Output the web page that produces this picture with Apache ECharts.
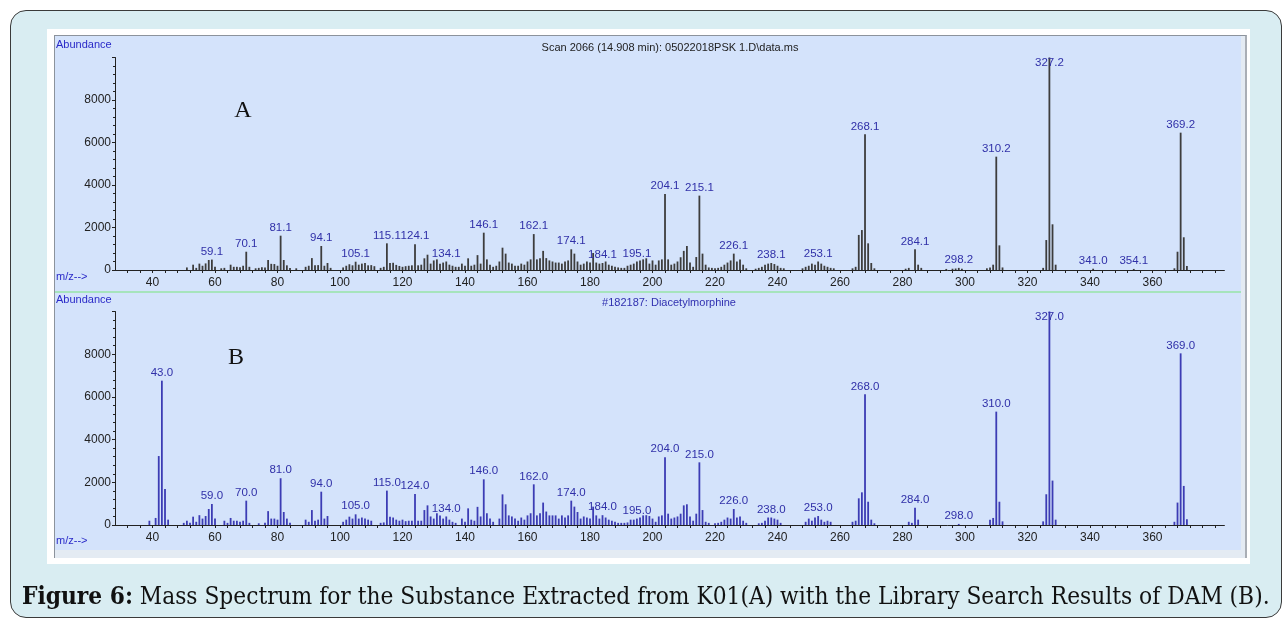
<html>
<head>
<meta charset="UTF-8">
<script src="https://cdn.jsdelivr.net/npm/echarts@6/dist/echarts.min.js"></script>
<style>
    body { margin: 0; background: #ffffff; }
    .outer {
        position: absolute; left: 10px; top: 10px; width: 1270px; height: 606px;
        border: 1.5px solid #3a3a3a; border-radius: 16px; background: #d9edf2;
    }
    .frame { position: absolute; left: 47px; top: 29px; width: 1203px; height: 535px; background: #ffffff; }
    .panel {
        position: absolute; left: 54px; top: 35px; width: 1190px; height: 522px;
        border-left: 1px solid #8c939c; border-top: 1px solid #8c939c; border-right: 2px solid #a9aeb5;
        background: #e4ebf3;
    }
    .plot { position: absolute; left: 55px; top: 36px; width: 1186px; height: 514px; background: #d4e3fb; }
    .sep { position: absolute; left: 55px; top: 291px; width: 1186px; height: 2px; background: #a6e4bc; }
    #chart { position: absolute; left: 0; top: 0; width: 1286px; height: 622px; }
    .caption {
        position: absolute; left: 22px; top: 583px; white-space: nowrap;
        font-family: "DejaVu Serif", serif; font-stretch: condensed; font-size: 22px; line-height: 26px; color: #111;
    }
</style>
</head>
<body>
<div class="outer"></div>
<div class="frame"></div>
<div class="panel"></div>
<div class="plot"></div>
<div class="sep"></div>
<div id="chart"></div>
<div class="caption" id="caption"><b>Figure 6:</b> Mass Spectrum for the Substance Extracted from K01(A) with the Library Search Results of DAM (B).</div>
<script>
    // [m/z, abundance] (A) and the library hit (B)
    const peaksA = [[51,120],[53,250],[54,100],[55,300],[56,200],[57,310],[58,470],[59,490],[60,150],[62,80],[63,100],[65,250],[66,150],[67,150],[68,130],[69,200],[70,860],[71,150],[73,80],[74,100],[75,130],[76,120],[77,470],[78,290],[79,280],[80,200],[81,1615],[82,470],[83,220],[84,100],[86,80],[89,150],[90,200],[91,560],[92,220],[93,230],[94,1130],[95,200],[96,330],[97,100],[101,120],[102,200],[103,270],[104,220],[105,390],[106,250],[107,300],[108,330],[109,220],[110,230],[111,180],[113,100],[114,150],[115,1255],[116,330],[117,340],[118,240],[119,190],[120,150],[121,180],[122,200],[123,220],[124,1210],[125,220],[126,250],[127,550],[128,720],[129,300],[130,450],[131,500],[132,300],[133,350],[134,400],[135,250],[136,200],[137,150],[138,150],[139,300],[140,200],[141,550],[142,200],[143,250],[144,700],[145,300],[146,1756],[147,500],[148,250],[149,150],[150,200],[151,400],[152,1050],[153,770],[154,350],[155,300],[156,200],[157,200],[158,300],[159,250],[160,400],[161,500],[162,1690],[163,500],[164,550],[165,900],[166,560],[167,450],[168,400],[169,350],[170,350],[171,300],[172,400],[173,450],[174,975],[175,770],[176,400],[177,250],[178,300],[179,400],[180,350],[181,800],[182,350],[183,300],[184,330],[185,400],[186,250],[187,200],[188,150],[189,120],[190,100],[191,100],[192,200],[193,250],[194,300],[195,400],[196,450],[197,500],[198,550],[199,300],[200,450],[201,250],[202,450],[203,500],[204,3577],[205,500],[206,250],[207,300],[208,400],[209,600],[210,900],[211,1130],[212,350],[213,150],[214,610],[215,3500],[216,770],[217,250],[218,120],[219,100],[220,80],[221,100],[222,150],[223,250],[224,350],[225,450],[226,770],[227,400],[228,500],[229,250],[230,80],[233,60],[234,100],[235,150],[236,250],[237,300],[238,330],[239,280],[240,200],[241,100],[242,80],[248,80],[249,150],[250,200],[251,300],[252,250],[253,400],[254,300],[255,200],[256,150],[257,100],[258,80],[264,80],[265,150],[266,1650],[267,1880],[268,6384],[269,1255],[270,330],[271,80],[281,60],[282,100],[284,972],[285,250],[286,100],[294,50],[296,60],[297,70],[298,100],[299,60],[307,80],[308,120],[309,250],[310,5333],[311,1160],[312,120],[325,100],[326,1410],[327,10000],[328,2150],[329,250],[341,60],[354,50],[367,80],[368,860],[369,6463],[370,1540],[371,190]];
    const peaksB = [[39,200],[41,330],[42,3230],[43,6760],[44,1686],[45,250],[50,100],[51,200],[52,100],[53,390],[54,150],[55,460],[56,300],[57,420],[58,750],[59,985],[60,300],[63,200],[64,100],[65,330],[66,200],[67,200],[68,150],[69,200],[70,1140],[71,100],[74,80],[76,100],[77,650],[78,300],[79,300],[80,250],[81,2190],[82,610],[83,300],[84,100],[89,250],[90,150],[91,700],[92,200],[93,250],[94,1560],[95,300],[96,420],[101,150],[102,250],[103,390],[104,300],[105,500],[106,300],[107,350],[108,300],[109,250],[110,200],[113,100],[114,120],[115,1610],[116,390],[117,350],[118,250],[119,200],[120,250],[121,180],[122,200],[123,200],[124,1450],[125,200],[126,200],[127,700],[128,920],[129,400],[130,300],[131,550],[132,450],[133,300],[134,400],[135,250],[136,150],[137,100],[139,300],[140,150],[141,780],[142,250],[143,200],[144,850],[145,400],[146,2140],[147,550],[148,300],[149,150],[151,300],[152,1435],[153,970],[154,450],[155,400],[156,300],[157,200],[158,350],[159,250],[160,450],[161,550],[162,1905],[163,450],[164,550],[165,1050],[166,630],[167,450],[168,450],[169,450],[170,300],[171,450],[172,350],[173,450],[174,1140],[175,860],[176,610],[177,300],[178,400],[179,350],[180,300],[181,860],[182,450],[183,300],[184,460],[185,350],[186,250],[187,200],[188,150],[189,100],[190,100],[191,100],[192,120],[193,250],[194,250],[195,300],[196,350],[197,450],[198,460],[199,420],[200,300],[201,150],[202,400],[203,450],[204,3170],[205,530],[206,300],[207,350],[208,400],[209,530],[210,920],[211,970],[212,400],[213,200],[214,530],[215,2935],[216,700],[217,150],[218,100],[220,80],[221,100],[222,150],[223,250],[224,350],[225,300],[226,750],[227,350],[228,400],[229,200],[230,100],[234,80],[235,100],[236,200],[237,350],[238,350],[239,300],[240,250],[241,100],[249,150],[250,300],[251,200],[252,350],[253,420],[254,250],[255,150],[256,200],[257,150],[264,150],[265,200],[266,1250],[267,1530],[268,6120],[269,1090],[270,250],[271,80],[282,150],[283,100],[284,810],[285,250],[298,50],[308,250],[309,330],[310,5310],[311,1090],[312,170],[325,170],[326,1440],[327,10000],[328,2080],[329,250],[367,150],[368,1050],[369,8040],[370,1830],[371,270]];

    // labelled peaks: nominal m/z and the text the software prints
    const labelMzA = [59,70,81,94,105,115,124,134,146,162,174,184,195,204,215,226,238,253,268,284,298,310,327,341,354,369];
    const labelTextA = ['59.1','70.1','81.1','94.1','105.1','115.1','124.1','134.1','146.1','162.1','174.1','184.1','195.1','204.1','215.1','226.1','238.1','253.1','268.1','284.1','298.2','310.2','327.2','341.0','354.1','369.2'];
    const labelMzB = [43,59,70,81,94,105,115,124,134,146,162,174,184,195,204,215,226,238,253,268,284,298,310,327,369];
    const labelTextB = ['43.0','59.0','70.0','81.0','94.0','105.0','115.0','124.0','134.0','146.0','162.0','174.0','184.0','195.0','204.0','215.0','226.0','238.0','253.0','268.0','284.0','298.0','310.0','327.0','369.0'];

    const titleA = 'Scan 2066 (14.908 min): 05022018PSK 1.D\\data.ms';
    const titleB = '#182187: Diacetylmorphine';
    const mzMin = 28, mzMax = 383, abMax = 10000;

    const labelColor = '#3030a8';
    const tickFont = { fontFamily: 'Liberation Sans, Arial, sans-serif', fontSize: 12, color: '#222' };

    function toBars(peaks, mzs, texts) {
        return peaks.map(function (p) {
            const i = mzs.indexOf(p[0]);
            if (i < 0) return { value: p };
            const lab = { show: true, formatter: texts[i] };
            if (p[1] >= abMax) lab.offset = [0, 13];
            return { value: p, label: lab };
        });
    }

    function xAxis(idx) {
        return {
            type: 'value', gridIndex: idx, min: mzMin, max: mzMax, interval: 4,
            axisLine: { onZero: false, lineStyle: { color: '#222', width: 1 } },
            axisTick: { length: 3, lineStyle: { color: '#222' } },
            splitLine: { show: false },
            axisLabel: Object.assign({
                margin: 7, showMaxLabel: false, showMinLabel: false,
                formatter: function (v) { return (v % 20 === 0 && v >= 40 && v <= 360) ? String(v) : ''; }
            }, tickFont)
        };
    }

    function yAxis(idx) {
        return {
            type: 'value', gridIndex: idx, min: 0, max: abMax, interval: 2000,
            axisLine: { show: true, lineStyle: { color: '#222', width: 1 } },
            axisTick: { show: true, length: 3, lineStyle: { color: '#222' } },
            minorTick: { show: true, splitNumber: 5, length: 2, lineStyle: { color: '#222' } },
            splitLine: { show: false },
            axisLabel: Object.assign({
                margin: 4, formatter: function (v) { return v >= abMax ? '' : String(v); }
            }, tickFont)
        };
    }

    function series(idx, peaks, mzs, texts, color) {
        return {
            type: 'bar', xAxisIndex: idx, yAxisIndex: idx, barWidth: 1.8,
            itemStyle: { color: color },
            label: {
                show: false, position: 'top', distance: 2, color: labelColor,
                fontFamily: 'Liberation Sans, Arial, sans-serif', fontSize: 11.5
            },
            data: toBars(peaks, mzs, texts),
            animation: false
        };
    }

    const small = { fontFamily: 'Liberation Sans, Arial, sans-serif', fontSize: 11 };
    const chart = echarts.init(document.getElementById('chart'));
    chart.setOption({
        animation: false,
        grid: [
            { left: 115, top: 57.5, width: 1109.4, height: 212.5 },
            { left: 115, top: 311.5, width: 1109.4, height: 213.5 }
        ],
        xAxis: [xAxis(0), xAxis(1)],
        yAxis: [yAxis(0), yAxis(1)],
        series: [
            series(0, peaksA, labelMzA, labelTextA, '#3d3d3d'),
            series(1, peaksB, labelMzB, labelTextB, '#3c3cb4')
        ],
        graphic: [
            { type: 'text', left: 56, top: 39, style: Object.assign({ text: 'Abundance', fill: '#2a2ac8' }, small) },
            { type: 'text', left: 56, top: 294, style: Object.assign({ text: 'Abundance', fill: '#2a2ac8' }, small) },
            { type: 'text', left: 56, top: 271, style: Object.assign({ text: 'm/z-->', fill: '#2a2ac8' }, small) },
            { type: 'text', left: 56, top: 535, style: Object.assign({ text: 'm/z-->', fill: '#2a2ac8' }, small) },
            { type: 'text', x: 670, y: 48, style: Object.assign({ text: titleA, fill: '#222', align: 'center', verticalAlign: 'middle' }, small) },
            { type: 'text', x: 669, y: 303, style: Object.assign({ text: titleB, fill: '#3030b0', align: 'center', verticalAlign: 'middle' }, small) },
            { type: 'text', x: 243, y: 111, style: { text: 'A', fill: '#111', font: '24px "Liberation Serif", serif', align: 'center', verticalAlign: 'middle' } },
            { type: 'text', x: 236, y: 358, style: { text: 'B', fill: '#111', font: '24px "Liberation Serif", serif', align: 'center', verticalAlign: 'middle' } }
        ]
    });

    // stretch the caption font size so the line spans the same width as the figure's
    const cap = document.getElementById('caption');
    const w = cap.getBoundingClientRect().width;
    cap.style.fontSize = (22 * 1248 / w).toFixed(2) + 'px';
</script>
</body>
</html>
